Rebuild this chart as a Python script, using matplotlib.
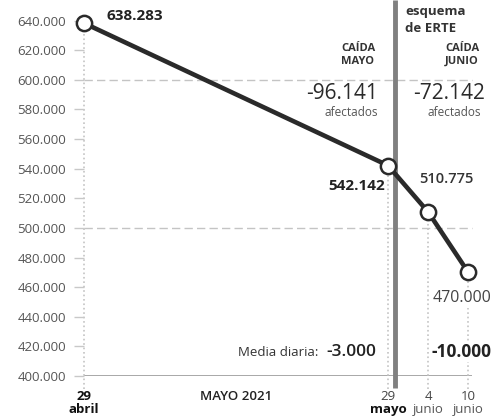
import numpy as np
import matplotlib.pyplot as plt

plt.rcParams['font.family'] = ['Open Sans', 'DejaVu Sans']

# dias contados desde el 29 de abril de 2021
dias = [0, 30, 36, 42]
afectados = [638283, 542142, 510775, 470000]
etiquetas_dia = ['29', '29', '4', '10']
etiquetas_mes = ['abril', 'mayo', 'junio', 'junio']
dia_mayo = 15
dia_fin_erte = 31
lineas_guia = [600000, 500000]
yticks = list(range(400000, 640001, 20000))

caida_mayo = -96141
caida_junio = -72142
media_mayo = -3000
media_junio = -10000


def fmt(v):
    return f'{v:,}'.replace(',', '.')


def adelante(x):
    x = np.asarray(x, dtype=float)
    return np.where(x <= 30, x, 30 + (x - 30) * 0.66)


def atras(x):
    x = np.asarray(x, dtype=float)
    return np.where(x <= 30, x, 30 + (x - 30) / 0.66)


def px(x, y):
    # posicion en pixeles de la figura -> fraccion
    return x / 493, 1 - y / 419


fig = plt.figure(figsize=(4.93, 4.19), dpi=100)
ax = fig.add_axes([84 / 493, 43 / 419, 409 / 493, 376 / 419])
ax.set_xscale('function', functions=(adelante, atras))
ax.set_xlim(0, 45.7)
ax.set_ylim(400000, 653900)

for s in ax.spines.values():
    s.set_visible(False)

# lineas de fondo
ax.hlines(lineas_guia, 0, 42.6, colors='#c4c4c4', linestyles=(0, (6, 3)), lw=1, zorder=1)
ax.hlines(400000, 0, 42.6, colors='#9a9a9a', lw=1.2, zorder=1)
ax.vlines(dias, 391000, afectados, colors='#c4c4c4', linestyles=':', lw=1.2,
          clip_on=False, zorder=1)
ax.vlines(dia_fin_erte, 392000, 653900, colors='#808080', lw=3.5, zorder=2, clip_on=False)

ax.plot(dias, afectados, color='#2a2a2a', lw=3.3, marker='o', ms=11,
        mfc='white', mec='#2a2a2a', mew=1.8, zorder=4, clip_on=False)

# ejes
ax.set_yticks(yticks, [fmt(v) for v in yticks])
ax.tick_params(axis='y', length=7, width=1, color='#c8c8c8', pad=6,
               labelsize=9.5, labelcolor='#555555')

ticks_x = dias[:1] + [dia_mayo] + dias[1:]
labels_x = etiquetas_dia[:1] + ['MAYO 2021'] + etiquetas_dia[1:]
ax.xaxis.remove_overlapping_locs = False
ax.set_xticks(ticks_x, labels_x)
ax.set_xticks(dias, etiquetas_mes, minor=True)
ax.tick_params(axis='x', which='major', length=0, pad=10, labelsize=9.5)
ax.tick_params(axis='x', which='minor', length=0, pad=19.5, labelsize=9.5)

for i, t in enumerate(ax.get_xticklabels()):
    if i == 0:
        t.set_fontweight('bold')
        t.set_color('#111111')
    elif i == 1:
        t.set_fontweight('semibold')
        t.set_color('#222222')
    else:
        t.set_color('#444444')
for i, t in enumerate(ax.get_xticklabels(minor=True)):
    if i < 2:
        t.set_fontweight('bold')
        t.set_color('#111111')
    else:
        t.set_color('#555555')

# etiquetas de los puntos
ax.annotate(fmt(afectados[0]), (dias[0], afectados[0]), xytext=(16.5, 5.3),
            textcoords='offset points', ha='left', va='center',
            fontsize=11, fontweight='bold', color='#222222')
ax.annotate(fmt(afectados[1]), (dias[1], afectados[1]), xytext=(-2, -15),
            textcoords='offset points', ha='right', va='center',
            fontsize=11, fontweight='bold', color='#222222')
ax.annotate(fmt(afectados[2]), (dias[2], afectados[2]), xytext=(-6.5, 23.8),
            textcoords='offset points', ha='left', va='center',
            fontsize=10.5, fontweight='semibold', color='#333333')
ax.annotate(fmt(afectados[3]), (dias[3], afectados[3]), xytext=(-26, -18.7),
            textcoords='offset points', ha='left', va='center',
            fontsize=11.5, color='#444444', zorder=5,
            bbox=dict(fc='white', ec='none', pad=1))

# textos de cabecera
fig.text(*px(405, 15), 'esquema', ha='left', va='baseline',
         fontsize=9.5, fontweight='bold', color='#333333')
fig.text(*px(405, 32), 'de ERTE', ha='left', va='baseline',
         fontsize=9.5, fontweight='bold', color='#333333')

fig.text(*px(358, 55), 'CAÍDA\nMAYO', ha='center', va='center',
         fontsize=8, fontweight='bold', color='#333333', linespacing=1.3)
fig.text(*px(462, 55), 'CAÍDA\nJUNIO', ha='center', va='center',
         fontsize=8, fontweight='bold', color='#333333', linespacing=1.3)

fig.text(*px(378, 93), fmt(caida_mayo), ha='right', va='center',
         fontsize=15, color='#2a2a2a')
fig.text(*px(378, 113), 'afectados', ha='right', va='center',
         fontsize=8.5, color='#555555')
fig.text(*px(413, 93), fmt(caida_junio), ha='left', va='center',
         fontsize=15, color='#2a2a2a')
fig.text(*px(427, 113), 'afectados', ha='left', va='center',
         fontsize=8.5, color='#555555')

fig.text(*px(318, 352), 'Media diaria:', ha='right', va='center',
         fontsize=9.5, color='#333333')
fig.text(*px(326, 352), fmt(media_mayo), ha='left', va='center',
         fontsize=12.5, fontweight='semibold', color='#222222')
fig.text(*px(432, 352), fmt(media_junio), ha='left', va='center',
         fontsize=12.5, fontweight='bold', color='#222222', zorder=5,
         bbox=dict(fc='white', ec='none', pad=1))

fig.savefig('out.png', dpi=100)
